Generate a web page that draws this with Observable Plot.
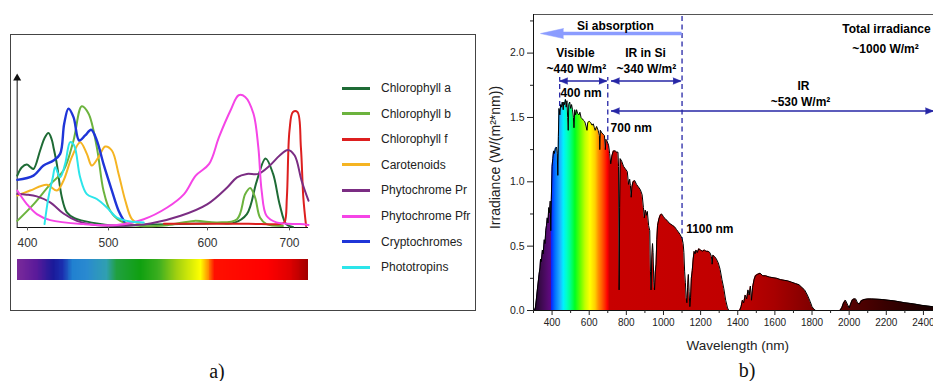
<!DOCTYPE html>
<html><head><meta charset="utf-8">
<script src="https://cdn.jsdelivr.net/npm/d3@7"></script>
<script src="https://cdn.jsdelivr.net/npm/@observablehq/plot@0.6"></script>
<style>
html,body{margin:0;padding:0;background:#fff;overflow:hidden;width:933px;height:381px;}
#root{position:relative;width:933px;height:381px;overflow:hidden;font-family:"Liberation Sans",Arial,sans-serif;}
.abs{position:absolute;}
svg{max-width:none !important;}
</style></head><body><div id="root"></div>
<script>
// ---------- Panel a data: absorption spectra (nm, relative absorbance) ----------
const chlorophyllA = [[387.7,33.7],[393,39],[399.2,40.9],[404,39],[407.4,38],[415.6,50],[421,58],[425.9,61.3],[430,57],[432.1,52],[436.2,41.3],[442.4,19.6],[448.6,9.8],[458,6],[469.1,4.3],[489.7,2.2],[508.5,1.1],[542.4,2],[593.2,2.6],[612,3],[632,3],[648,8.7],[660,30],[670.8,44.8],[680,34.8],[688,15],[696,2.2],[704,0.4]];
const chlorophyllB = [[387.7,4.3],[407.4,15],[428,28],[444.4,37],[456.8,56.5],[467,78.7],[475.3,74],[485.6,52],[493.8,24],[501.7,10.9],[511.9,4.3],[532.2,1],[559.3,1.5],[586.4,4.3],[612,3.3],[636,5.4],[646,21.7],[652,25.7],[658,19.6],[664,6.5],[672,2.2],[692,1]];
const chlorophyllF = [[556,2.4],[600,2.4],[650,2.4],[690,2.4],[694,3.5],[696.8,19.6],[700,63],[704,75],[709.2,75],[713.2,52],[716,19.6],[719.2,1]];
const carotenoids = [[387.7,20.7],[403.3,24],[423.9,27.8],[436.2,24],[444.4,30.4],[454.7,45.7],[465,55.4],[473.3,47.8],[479.4,40.2],[487.7,45.7],[495.9,52.6],[503.4,50],[510.2,34.8],[517,17.4],[523.7,5.4],[532,2]];
const phytochromePr = [[387.7,21.7],[399,21.3],[411.5,20.2],[428,16.3],[444.4,9.1],[461,4.3],[481.5,1.7],[508.5,1.1],[542.4,2.6],[572.9,7.6],[600,15.2],[624,26],[636,32.6],[648,34.8],[662,34.8],[676,40.2],[688,46.7],[698,50.4],[706,46.7],[714,30.4],[722,17.4]];
const phytochromePfr = [[387.7,24],[399.2,15.2],[411.5,8.7],[428,4.8],[469,2.2],[508.5,1.7],[535.6,5.4],[559.3,13],[576.3,21.7],[588.1,33.7],[602,41.3],[614,58.7],[628,76],[638,85.9],[646,84.8],[656,74],[662,52],[666,24],[672,7.6],[684,3.3],[712,2.2],[722,1.7]];
const cryptochromes = [[387.7,30.9],[407.4,33.7],[419.8,40.2],[432.1,43.5],[440.3,47.8],[445.3,67.4],[450.6,77.2],[456.8,71.7],[463.8,56.5],[471.2,59.8],[478.6,63.5],[485.6,56.5],[493.8,41.3],[503.4,24],[510.2,10.9],[516,3.9]];
const phototropins = [[421,2.2],[425.9,19.6],[431.3,32.6],[434.2,39.1],[440.3,32.6],[446.5,41.3],[452.7,55.4],[457.6,53.3],[465,32.6],[473.3,21.7],[485.6,18.5],[498,13],[508.5,6.5],[522,3.9],[535.6,3.3]];
const pigmentNames = ["Chlorophyll a","Chlorophyll b","Chlorophyll f","Carotenoids","Phytochrome Pr","Phytochrome Pfr","Cryptochromes","Phototropins"];
const pigmentColors = ["#1e6b35","#6cb33e","#dd1f1f","#f5b422","#7b2d83","#f545e6","#1f35d8","#2ce5ea"];
const pigmentSeries = [chlorophyllA, chlorophyllB, chlorophyllF, carotenoids, phytochromePr, phytochromePfr, cryptochromes, phototropins];
const aTicks = [400, 500, 600, 700];
const barStops = [388, 411, 432, 444, 455, 473, 498, 508, 532, 552, 569, 593, 602, 608, 672, 700, 722];
const barColors = ["#7a2a9a","#5a1a9a","#1a1a9a","#1a30b0","#2080d0","#2a8ad0","#30a0b0","#20a040","#10a010","#40b020","#a0d010","#ffff00","#ff8000","#ff1000","#ff0000","#e00000","#a00000"];

// ---------- Panel b data: AM1.5 solar spectrum ----------
const solarNm = [300,305,310,315,320,330,335,338,342,348,352,358,362,366,370,374,378,382,386,390,393,396,400,404,408,412,418,424,428,431,434,437,442,446,450,455,460,463,467,472,476,480,484,487,490,495,500,505,510,515,518,522,527,532,538,545,550,556,562,568,575,580,588,592,600,608,615,622,628,632,640,648,655,657,660,668,675,682,687,690,695,700,705,710,716,722,730,740,748,755,758,761,764,767,775,785,795,805,812,818,822,826,830,836,845,855,865,875,885,892,897,902,908,913,920,926,930,933,937,941,944,948,952,956,960,964,968,975,982,990,1000,1010,1020,1030,1040,1050,1060,1070,1080,1090,1100,1106,1110,1114,1118,1122,1126,1130,1134,1138,1142,1146,1150,1155,1160,1165,1170,1175,1182,1190,1200,1210,1220,1230,1240,1250,1258,1262,1266,1275,1285,1295,1305,1315,1325,1335,1345,1352,1410,1418,1425,1432,1440,1448,1455,1462,1468,1474,1480,1488,1495,1505,1520,1535,1550,1570,1590,1610,1630,1650,1670,1690,1710,1730,1745,1760,1775,1790,1800,1810,1820,1950,1960,1970,1980,1990,2000,2008,2016,2025,2035,2045,2055,2065,2080,2100,2120,2150,2180,2210,2240,2270,2300,2330,2360,2390,2420,2450,2480,2500];
const solarIrr = [0,0,0.02,0.08,0.15,0.28,0.33,0.40,0.38,0.47,0.44,0.55,0.52,0.62,0.66,0.72,0.68,0.80,0.76,0.85,0.62,0.86,1.12,1.18,1.24,1.22,1.26,1.27,1.22,1.05,1.35,1.57,1.52,1.60,1.58,1.62,1.56,1.62,1.60,1.64,1.58,1.63,1.50,1.40,1.60,1.62,1.57,1.60,1.56,1.50,1.42,1.56,1.52,1.56,1.53,1.52,1.54,1.50,1.49,1.48,1.47,1.45,1.40,1.46,1.47,1.46,1.44,1.45,1.42,1.40,1.43,1.40,1.36,1.25,1.40,1.38,1.37,1.36,1.25,1.33,1.32,1.30,1.28,1.22,1.14,1.20,1.24,1.24,1.23,1.23,1.12,0.16,0.80,1.18,1.16,1.12,1.10,1.08,0.98,1.02,0.97,0.88,0.96,1.00,1.01,0.98,0.96,0.94,0.90,0.80,0.72,0.78,0.74,0.77,0.66,0.62,0.30,0.16,0.40,0.52,0.45,0.22,0.16,0.30,0.36,0.55,0.66,0.71,0.74,0.75,0.73,0.71,0.70,0.68,0.67,0.66,0.65,0.63,0.61,0.59,0.56,0.52,0.45,0.30,0.22,0.10,0.06,0.18,0.28,0.15,0.03,0.10,0.25,0.31,0.40,0.46,0.44,0.47,0.45,0.48,0.47,0.46,0.47,0.46,0.46,0.45,0.42,0.36,0.43,0.42,0.40,0.37,0.32,0.24,0.17,0.08,0.02,0,0,0.03,0.08,0.06,0.12,0.09,0.16,0.12,0.19,0.08,0.18,0.24,0.27,0.28,0.29,0.27,0.27,0.26,0.255,0.25,0.24,0.235,0.23,0.22,0.21,0.20,0.18,0.16,0.12,0.07,0.03,0.01,0,0,0.02,0.06,0.08,0.05,0.02,0.05,0.08,0.09,0.09,0.06,0.05,0.075,0.085,0.09,0.09,0.088,0.085,0.08,0.075,0.068,0.06,0.055,0.048,0.04,0.035,0.03,0.025,0.02];
const gradNm = [300,340,385,394,396,418,445,463,481,499,526,553,580,607,634,652,670,688,700,712,1400,1600,1800,2000,2200,2500];
const gradColors = ["#1e0025","#3a0a4a","#5a0a78","#60087e","#0a1aff","#0070ff","#20b0ff","#00f0ff","#00ffc8","#00ff90","#00ff20","#60ff00","#c0ff00","#ffff00","#ffd000","#ff9000","#ff6000","#ff2a00","#ff0000","#c80000","#c00000","#a80000","#800000","#580000","#380000","#150000"];
const bMajorTicks = [400,600,800,1000,1200,1400,1600,1800,2000,2200,2400];
const bMinorTicks = [300,500,700,900,1100,1300,1500,1700,1900,2100,2300,2500];
const yMajorTicks = [0,0.5,1.0,1.5,2.0];
const yMinorTicks = [0.25,0.75,1.25,1.75,2.25];
const dashNm = [441, 700, 1100];
const dashTop = [1.81, 1.81, 2.3];
const arrowY = [1.783, 1.783, 1.55];
const arrowFrom = [441, 720, 720];
const arrowTo = [696, 1095, 2454];
const centerLabels = ["Si absorption","Visible","~440 W/m²","IR in Si","~340 W/m²","IR","~530 W/m²","Total irradiance","~1000 W/m²"];
const centerX = [741, 526, 531, 903, 908, 1754, 1738, 2201, 2196];
const centerY = [2.213, 2.0, 1.873, 2.0, 1.873, 1.74, 1.62, 2.19, 2.03];
const leftLabels = ["400 nm","700 nm","1100 nm"];
const leftX = [445, 715, 1122];
const leftY = [1.69, 1.414, 0.63];

const root = document.getElementById("root");
const FONT = "Liberation Sans, Arial, sans-serif";

// ---------- Panel a ----------
const frameA = document.createElement("div");
frameA.className = "abs";
Object.assign(frameA.style, {left:"10px", top:"34px", width:"466px", height:"277px", border:"1px solid #444", boxSizing:"border-box"});
root.appendChild(frameA);

// the printed wavelength axis of panel a is slightly non-uniform: calibrate it piecewise
const aWarp = d3.scaleLinear().domain([388, 400, 500, 600, 700, 722]).range([17, 27, 108, 207, 289, 308]);
const barSteps = d3.range(388, 722, 1);
const curveMarks = pigmentSeries.map((s, i) =>
  Plot.line(s, {x: d => d[0], y: d => d[1], stroke: pigmentColors[i], strokeWidth: i === 6 ? 2.4 : 2, curve: "catmull-rom"}));
const plotA = Plot.plot({
  width: 480, height: 320, marginLeft: 0, marginRight: 0, marginTop: 0, marginBottom: 0,
  x: {type: "linear", transform: aWarp, domain: [17, 308], range: [17, 308], axis: null},
  y: {domain: [0, 100], range: [227, 73], axis: null},
  color: {type: "linear", domain: barStops, range: barColors, interpolate: "rgb"},
  style: {fontFamily: FONT, background: "transparent", overflow: "visible"},
  marks: [
    Plot.rect(barSteps, {x1: d => d, x2: d => Math.min(d + 2.5, 722), y1: -20.8, y2: -34.4, fill: d => d, inset: 0, shapeRendering: "crispEdges"}),
    Plot.ruleY([0], {x1: 387.6, x2: 722, stroke: "#111", strokeWidth: 1}),
    Plot.ruleX([387.6], {y1: 0, y2: 96, stroke: "#111", strokeWidth: 1}),
    Plot.dot([387.6], {x: d => d, y: 97, symbol: "triangle", r: 3, fill: "#111", stroke: "none"}),
    Plot.ruleX(aTicks, {x: d => d, y1: 0, y2: -2.2, stroke: "#555"}),
    Plot.text(aTicks, {x: d => d, y: 0, dy: 16, text: d => String(d), fontSize: 12, fill: "#333"}),
    ...curveMarks
  ]
});
plotA.classList.add("abs");
plotA.style.left = "0px"; plotA.style.top = "0px";
root.appendChild(plotA);

// legend
pigmentNames.forEach((name, i) => {
  const yc = 88 + i * 25.6;
  const sw = document.createElement("div");
  sw.className = "abs";
  Object.assign(sw.style, {left: "342px", top: (yc - 1.5) + "px", width: "28px", height: "3px", background: pigmentColors[i]});
  root.appendChild(sw);
  const tx = document.createElement("div");
  tx.className = "abs";
  tx.textContent = name;
  Object.assign(tx.style, {left: "381px", top: (yc - 8) + "px", fontSize: "12px", lineHeight: "16px", color: "#222", whiteSpace: "nowrap"});
  root.appendChild(tx);
});

// ---------- Panel b ----------
const solar = solarNm.map((nm, i) => ({nm, v: solarIrr[i]}));
const dashes = dashNm.map((x, i) => ({x, top: dashTop[i]}));
const arrows = arrowY.map((y, i) => ({y, a: arrowFrom[i], b: arrowTo[i]}));
const cLab = centerLabels.map((t, i) => ({t, x: centerX[i], y: centerY[i]}));
const lLab = leftLabels.map((t, i) => ({t, x: leftX[i], y: leftY[i]}));
const NAVY = "#2626a6";
const SIBLUE = "#8b9cff";

const plotB = Plot.plot({
  width: 522, height: 381, marginLeft: 93, marginRight: 20.5, marginTop: 14, marginBottom: 71,
  x: {domain: [300, 2500], axis: null},
  y: {domain: [0, 2.3], axis: null},
  style: {fontFamily: FONT, background: "transparent", overflow: "visible"},
  marks: [
    Plot.ruleX(dashes, {x: "x", y1: 0, y2: "top", stroke: NAVY, strokeWidth: 1.3, strokeDasharray: "5,3.5"}),
    Plot.areaY(solar, {x: "nm", y: "v", fill: "url(#solarGrad)"}),
    Plot.line(solar, {x: "nm", y: "v", stroke: "#000", strokeWidth: 1}),
    Plot.ruleY([2.3], {stroke: "#555", strokeWidth: 1}),
    Plot.ruleY([0], {stroke: "#111", strokeWidth: 1}),
    Plot.ruleX([300], {stroke: "#111", strokeWidth: 1}),
    Plot.axisX({ticks: bMajorTicks, tickSize: 5, tickPadding: 3, fontSize: 10, tickFormat: d => String(d), label: null, fill: "#222", stroke: "#222"}),
    Plot.axisX({ticks: bMinorTicks, tickSize: 3, tickFormat: () => "", label: null, stroke: "#222"}),
    Plot.axisY({ticks: yMajorTicks, tickSize: 6, tickPadding: 3, fontSize: 10.5, tickFormat: d => d.toFixed(1), label: null, fill: "#222", stroke: "#222"}),
    Plot.axisY({ticks: yMinorTicks, tickSize: 3, tickFormat: () => "", label: null, stroke: "#222"}),
    Plot.text(["Wavelength (nm)"], {frameAnchor: "bottom", lineAnchor: "middle", dy: 35, fontSize: 13.5, fill: "#222"}),
    Plot.text(["Irradiance (W/(m²*nm))"], {frameAnchor: "left", textAnchor: "middle", lineAnchor: "middle", dx: -38, dy: -5, rotate: -90, fontSize: 14, fill: "#222"}),
    // Si absorption arrow
    Plot.ruleY([2.152], {x1: 450, x2: 1100, stroke: SIBLUE, strokeWidth: 3.5}),
    Plot.vector([337.7], {x: d => d, y: 2.152, rotate: -90, length: 23, r: 5, shape: "spike", anchor: "end", fill: SIBLUE, stroke: SIBLUE, strokeWidth: 0.5}),
    // navy double arrows
    Plot.ruleY(arrows, {y: "y", x1: "a", x2: "b", stroke: NAVY, strokeWidth: 1.5}),
    Plot.vector(arrows, {x: "a", y: "y", rotate: -90, length: 8, r: 3.2, shape: "spike", anchor: "end", fill: NAVY, stroke: NAVY, strokeWidth: 0.5}),
    Plot.vector(arrows, {x: "b", y: "y", rotate: 90, length: 8, r: 3.2, shape: "spike", anchor: "end", fill: NAVY, stroke: NAVY, strokeWidth: 0.5}),
    Plot.text(cLab, {x: "x", y: "y", text: "t", fontSize: 12, fontWeight: "bold", fill: "#000"}),
    Plot.text(lLab, {x: "x", y: "y", text: "t", fontSize: 12, fontWeight: "bold", fill: "#000", textAnchor: "start"})
  ]
});
// gradient fill following the x scale
const sx = plotB.scale("x");
const NS = "http://www.w3.org/2000/svg";
const defs = document.createElementNS(NS, "defs");
const lg = document.createElementNS(NS, "linearGradient");
lg.setAttribute("id", "solarGrad");
lg.setAttribute("gradientUnits", "userSpaceOnUse");
lg.setAttribute("x1", sx.apply(300)); lg.setAttribute("x2", sx.apply(2500));
lg.setAttribute("y1", 0); lg.setAttribute("y2", 0);
gradNm.forEach((nm, i) => {
  const st = document.createElementNS(NS, "stop");
  st.setAttribute("offset", (nm - 300) / 2200);
  st.setAttribute("stop-color", gradColors[i]);
  lg.appendChild(st);
});
defs.appendChild(lg);
plotB.insertBefore(defs, plotB.firstChild);
plotB.classList.add("abs");
plotB.style.left = "440px"; plotB.style.top = "0px";
root.appendChild(plotB);

// panel captions
[["a)", 217, 371], ["b)", 747, 370]].forEach(([t, x, y]) => {
  const d = document.createElement("div");
  d.className = "abs";
  d.textContent = t;
  Object.assign(d.style, {left: x + "px", top: (y - 11) + "px", transform: "translateX(-50%)", fontFamily: "Liberation Serif, Times New Roman, serif", fontSize: "20px", lineHeight: "22px", color: "#111"});
  root.appendChild(d);
});
</script></body></html>
